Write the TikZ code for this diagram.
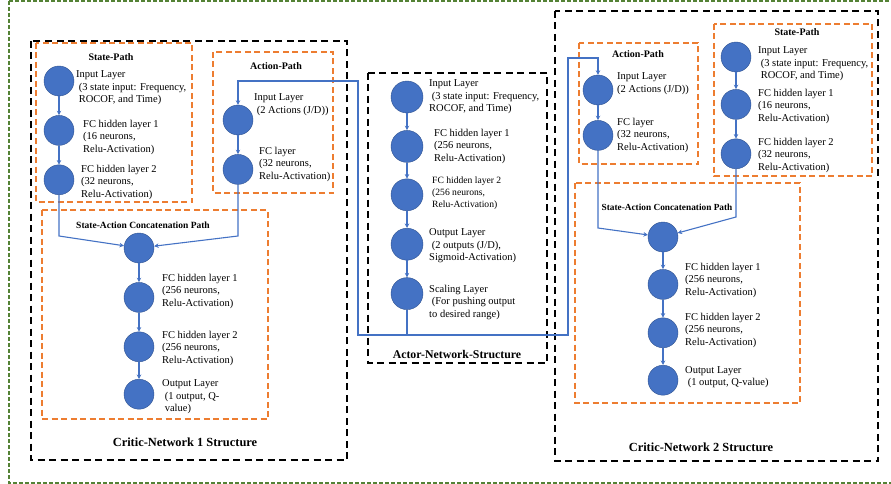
\documentclass[tikz,border=0pt]{standalone}
\usepackage{fontspec}
\setmainfont{Liberation Serif}
\usetikzlibrary{arrows.meta, positioning}

\definecolor{layerblue}{HTML}{4472C4}
\definecolor{layeredge}{HTML}{2F528F}
\definecolor{pathorange}{HTML}{ED7D31}
\definecolor{framegreen}{HTML}{548235}

\begin{document}
\begin{tikzpicture}[
    x=1pt, y=-1pt,
    layer/.style={circle, draw=layeredge, fill=layerblue, thin,
                  inner sep=0pt, minimum size=30pt},
    biglayer/.style={layer, minimum size=32pt},
    desc/.style={anchor=west, align=left, inner sep=0pt,
                 font=\fontsize{10.5}{12.5}\selectfont},
    smalldesc/.style={desc, font=\fontsize{9.6}{11.8}\selectfont},
    pathtitle/.style={font=\bfseries\fontsize{10}{12}\selectfont, inner sep=0pt},
    nettitle/.style={font=\bfseries\fontsize{12.4}{14}\selectfont, inner sep=0pt},
    pathbox/.style={draw=pathorange, line width=1.7pt, dash pattern=on 6pt off 3.5pt},
    netbox/.style={draw=black, line width=1.8pt, dash pattern=on 7pt off 4.5pt},
    relation/.style={-{Stealth[length=4.5pt, width=4.5pt]}, draw=layerblue, line width=1.1pt},
    link/.style={draw=layerblue, line width=1.1pt}
]

\clip (0,0) rectangle (891,484);
\useasboundingbox (0,0) rectangle (891,484);

% Outer frame
\draw[framegreen, line width=1.3pt, dash pattern=on 4pt off 2pt] (9,1) rectangle (900,483);

% Critic-Network 1
\draw[netbox] (31,41) rectangle (347,460);
\draw[pathbox] (36,43) rectangle (192,202);
\draw[pathbox] (213,52) rectangle (333,193);
\draw[pathbox] (42,210) rectangle (268,419);

\node[pathtitle] (statetitle1) at (111,57) {State-Path};
\node[pathtitle] (actiontitle1) at (276,66) {Action-Path};
\node[pathtitle, font=\bfseries\fontsize{9.5}{12}\selectfont] (concattitle1) at (143,225) {State-Action Concatenation Path};
\node[nettitle] (critic1title) at (185,442) {Critic-Network 1 Structure};

\node[layer] (s1) at (59,81) {};
\node[layer, below=19pt of s1] (s2) {};
\node[layer, below=19pt of s2] (s3) {};
\node[layer] (a1) at (238,120) {};
\node[layer, below=19pt of a1] (a2) {};
\node[layer] (c1) at (139,248) {};
\node[layer, below=19pt of c1] (c2) {};
\node[layer, below=19pt of c2] (c3) {};
\node[layer, below=17pt of c3] (c4) {};

\node[desc] (s1text) at (76,88) {Input Layer\\\ (3 state input: Frequency,\\\ ROCOF, and Time)};
\node[desc] (s2text) at (83,137) {FC hidden layer 1\\(16 neurons,\\Relu-Activation)};
\node[desc] (s3text) at (81,182) {FC hidden layer 2\\(32 neurons,\\Relu-Activation)};
\node[desc] (a1text) at (254,104.5) {Input Layer\\\ (2 Actions (J/D))};
\node[desc] (a2text) at (259,164) {FC layer\\(32 neurons,\\Relu-Activation)};
\node[desc] (c2text) at (162,291) {FC hidden layer 1\\(256 neurons,\\Relu-Activation)};
\node[desc] (c3text) at (162,348) {FC hidden layer 2\\(256 neurons,\\Relu-Activation)};
\node[desc] (c4text) at (162,397) {Output Layer\\\ (1 output, Q-\\\ value)};

\coordinate (s3down) at (59,236);
\coordinate (a2down) at (238,236);
\draw[relation] (s1) -- (s2);
\draw[relation] (s2) -- (s3);
\draw[relation] (a1) -- (a2);
\draw[relation] (s3) -- (s3down) -- (c1);
\draw[relation] (a2) -- (a2down) -- (c1);
\draw[relation] (c1) -- (c2);
\draw[relation] (c2) -- (c3);
\draw[relation] (c3) -- (c4);

% Actor-Network
\draw[netbox] (368,73) rectangle (547,363);
\node[nettitle, font=\bfseries\fontsize{11.8}{14}\selectfont] (actortitle) at (457,354) {Actor-Network-Structure};

\node[biglayer] (r1) at (407,97) {};
\node[biglayer, below=17pt of r1] (r2) {};
\node[biglayer, below=16pt of r2] (r3) {};
\node[biglayer, below=17pt of r3] (r4) {};
\node[biglayer, below=17pt of r4] (r5) {};

\node[desc] (r1text) at (429,97) {Input Layer\\\ (3 state input: Frequency,\\ROCOF, and Time)};
\node[desc] (r2text) at (434,146) {FC hidden layer 1\\(256 neurons,\\Relu-Activation)};
\node[smalldesc] (r3text) at (432,193) {FC hidden layer 2\\(256 neurons,\\Relu-Activation)};
\node[desc] (r4text) at (429,246) {Output Layer\\\ (2 outputs (J/D),\\Sigmoid-Activation)};
\node[desc] (r5text) at (429,302) {Scaling Layer\\\ (For pushing output\\to desired range)};

\draw[relation] (r1) -- (r2);
\draw[relation] (r2) -- (r3);
\draw[relation] (r3) -- (r4);
\draw[relation] (r4) -- (r5);

% Actor output to both critics
\coordinate (split) at (407,335);
\coordinate (leftlow) at (358,335);
\coordinate (lefthigh) at (358,81);
\coordinate (leftin) at (238,81);
\coordinate (rightlow) at (568,335);
\coordinate (righthigh) at (568,58);
\coordinate (rightin) at (598,58);
\draw[link] (r5) -- (split);
\draw[relation] (split) -- (leftlow) -- (lefthigh) -- (leftin) -- (a1);

% Critic-Network 2
\draw[netbox] (555,11) rectangle (878,461);
\draw[pathbox] (579,43) rectangle (698,164);
\draw[pathbox] (714,24) rectangle (872,176);
\draw[pathbox] (575,183) rectangle (800,403);

\node[pathtitle] (actiontitle2) at (638,54) {Action-Path};
\node[pathtitle] (statetitle2) at (797,32) {State-Path};
\node[pathtitle, font=\bfseries\fontsize{9.3}{10}\selectfont] (concattitle2) at (667,207) {State-Action Concatenation Path};
\node[nettitle] (critic2title) at (701,447) {Critic-Network 2 Structure};

\node[layer] (b1) at (598,90) {};
\node[layer, below=15pt of b1] (b2) {};
\node[layer] (t1) at (736,57) {};
\node[layer, below=17pt of t1] (t2) {};
\node[layer, below=19pt of t2] (t3) {};
\node[layer] (d1) at (663,237) {};
\node[layer, below=17pt of d1] (d2) {};
\node[layer, below=18pt of d2] (d3) {};
\node[layer, below=17pt of d3] (d4) {};

\node[desc] (b1text) at (617,83.5) {Input Layer\\(2 Actions (J/D))};
\node[desc] (b2text) at (617,135) {FC layer\\(32 neurons,\\Relu-Activation)};
\node[desc] (t1text) at (758,64) {Input Layer\\\ (3 state input: Frequency,\\\ ROCOF, and Time)};
\node[desc] (t2text) at (758,106) {FC hidden layer 1\\(16 neurons,\\Relu-Activation)};
\node[desc] (t3text) at (758,155) {FC hidden layer 2\\(32 neurons,\\Relu-Activation)};
\node[desc] (d2text) at (685,280) {FC hidden layer 1\\(256 neurons,\\Relu-Activation)};
\node[desc] (d3text) at (685,330) {FC hidden layer 2\\(256 neurons,\\Relu-Activation)};
\node[desc] (d4text) at (685,377) {Output Layer\\\ (1 output, Q-value)};

\coordinate (b2down) at (598,228);
\coordinate (t3down) at (736,217);
\draw[relation] (split) -- (rightlow) -- (righthigh) -- (rightin) -- (b1);
\draw[relation] (b1) -- (b2);
\draw[relation] (t1) -- (t2);
\draw[relation] (t2) -- (t3);
\draw[relation] (b2) -- (b2down) -- (d1);
\draw[relation] (t3) -- (t3down) -- (d1);
\draw[relation] (d1) -- (d2);
\draw[relation] (d2) -- (d3);
\draw[relation] (d3) -- (d4);

\end{tikzpicture}
\end{document}
